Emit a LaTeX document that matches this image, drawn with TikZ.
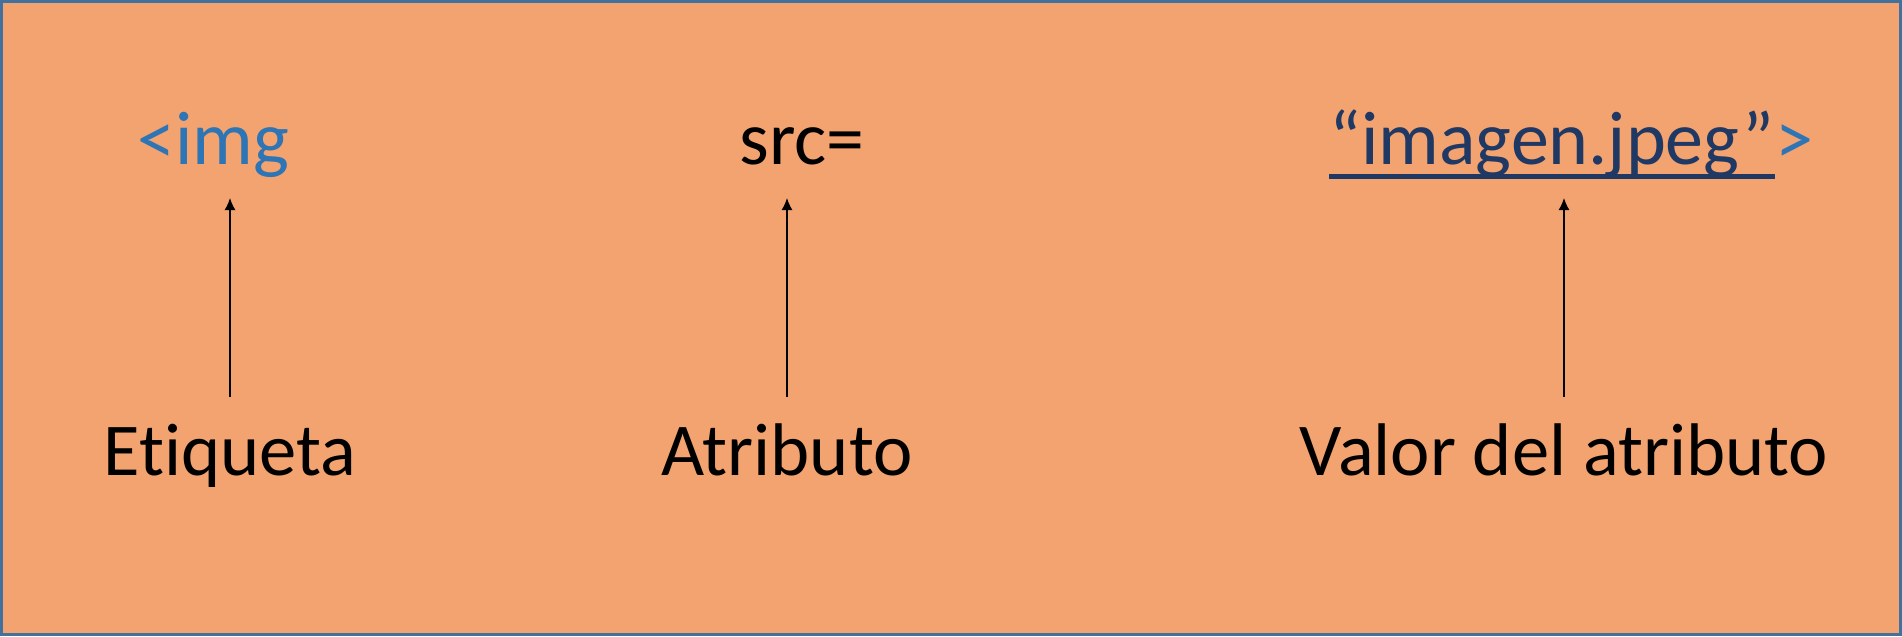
\documentclass[tikz,border=0pt]{standalone}
\usepackage{fontspec}
\setmainfont{Carlito}[RawFeature=-liga]
\usetikzlibrary{arrows.meta,positioning}
\definecolor{FondoNaranja}{HTML}{F2A36F}
\definecolor{BordeAzul}{HTML}{41719C}
\definecolor{EtiquetaAzul}{HTML}{2E75B6}
\definecolor{ValorAzul}{HTML}{203864}

\begin{document}
\begin{tikzpicture}[x=.01cm,y=.01cm,>={Latex[length=1.2mm,width=1.1mm]},
  texto/.style={inner sep=0pt,anchor=base,font=\fontsize{21.2}{25}\selectfont},
  codigo/.style={texto,anchor=base west,font=\fontsize{21.6}{25}\selectfont},
  flecha/.style={->,line width=.4pt}]
  \useasboundingbox (0,0) rectangle (1902,636);
  \draw[fill=FondoNaranja,draw=BordeAzul,line width=.03cm] (1.5,1.5) rectangle (1900.5,634.5);
  % codigo html
  \node[codigo,EtiquetaAzul] (img) at (137,471) {<img};
  \node[codigo] (src) at (739,471) {src=};
  \node[codigo,ValorAzul] (valor-txt) at (1329,471) {“imagen.jpeg”};
  \node[codigo,EtiquetaAzul] (cierre) at (valor-txt.base east) {>};
  \draw[ValorAzul,line width=.05cm] ([yshift=-.11cm]valor-txt.base west) -- ([yshift=-.11cm]valor-txt.base east);
  % nombres de las partes
  \node[texto] (etiqueta) at (230,160) {Etiqueta};
  \node[texto] (atributo) at (787,160) {Atributo};
  \node[texto] (valor) at (1564,160) {Valor del atributo};
  \coordinate (pie) at (0,239);
  \coordinate (punta) at (0,438);
  \draw[flecha] (etiqueta |- pie) -- (etiqueta |- punta);
  \draw[flecha] (atributo |- pie) -- (atributo |- punta);
  \draw[flecha] (valor |- pie) -- (valor |- punta);
\end{tikzpicture}
\end{document}
